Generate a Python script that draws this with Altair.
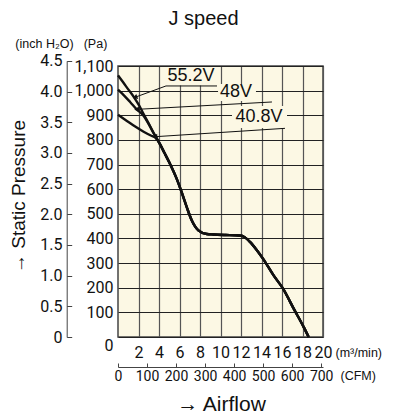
import altair as alt
import pandas as pd

# ---------------- data ----------------
series_names = ["55.2V", "48V", "40.8V"]

# separate heads of the three curves (flow m3/min, static pressure Pa)
flow_552 = [0, 0.5, 1.0, 1.5, 2.0, 2.5, 3.0, 3.5, 4.08]
pres_552 = [1062, 1034, 1005, 977, 944, 905, 866, 826, 784]
flow_48 = [0, 0.6, 1.2, 1.82, 2.45, 3.0, 3.5, 4.08]
pres_48 = [1004, 980, 953, 924, 900, 864, 826, 784]
flow_408 = [0, 0.8, 1.64, 2.5, 3.2, 3.61, 4.08]
pres_408 = [902, 879, 855, 833, 818, 810, 784]
# common part where the three curves coincide
flow_tail = [4.5, 5.06, 5.72, 6.2, 6.7, 7.19, 7.84, 8.66, 9.3, 10.5, 11.5, 12.0,
             12.24, 12.9, 13.55, 14.14, 15.18, 16.1, 17.14, 18.12, 18.6]
pres_tail = [750, 704, 643, 589, 528, 474, 433, 418, 416, 414, 413, 411,
             408, 385, 352, 318, 250, 196, 115, 40, 0]

flow_ticks = [2, 4, 6, 8, 10, 12, 14, 16, 18, 20]
pa_ticks = [0, 100, 200, 300, 400, 500, 600, 700, 800, 900, 1000, 1100]
inch_ticks = [0, 0.5, 1.0, 1.5, 2.0, 2.5, 3.0, 3.5, 4.0, 4.5]
cfm_ticks = [0, 100, 200, 300, 400, 500, 600, 700]

# annotation anchors (data units)
label_flow = [7.12, 11.51, 13.76]
label_pa = [1059, 994, 891]
box_flow1 = [4.39, 9.76, 11.12]
box_flow2 = [9.85, 13.46, 16.49]
box_pa1 = [1021, 958, 848]
box_pa2 = [1096, 1027, 938]
leader_series = ["55.2V", "55.2V", "55.2V", "48V", "48V", "40.8V", "40.8V"]
leader_flow = [1.66, 4.68, 9.66, 1.82, 15.02, 3.61, 16.29]
leader_pa = [973, 1019, 1019, 924, 954, 813, 847]
arrow_flow = [1.66, 1.82, 3.61]
arrow_pa = [973, 924, 813]

PA_PER_INCH = 249.089
CFM_PER_CMM = 35.3147
FLOW_MAX = 20
PA_MAX = 1100
INCH_MAX = 4.5

# ---------------- styles ----------------
W, H = 205, 271
NARROW = "Roboto, 'DejaVu Sans Condensed', sans-serif"
REG = "'Liberation Sans', Arial, sans-serif"
INK = "#111111"
CREAM = "#FCF8E4"
TICK_FS = 16
arrow_angle = {"55.2V": 340, "48V": 357, "40.8V": 356}

# ---------------- tables ----------------
rows = []
for name, fl, pr in zip(series_names, [flow_552, flow_48, flow_408], [pres_552, pres_48, pres_408]):
    for i, (q, p) in enumerate(zip(fl + flow_tail, pr + pres_tail)):
        rows.append({"series": name, "flow": q, "pa": p, "idx": i})
curves = pd.DataFrame(rows)

labels = pd.DataFrame({"series": series_names, "flow": label_flow, "pa": label_pa,
                       "f1": box_flow1, "f2": box_flow2, "p1": box_pa1, "p2": box_pa2})
leaders = pd.DataFrame({"series": leader_series, "flow": leader_flow, "pa": leader_pa,
                        "idx": list(range(len(leader_flow)))})
arrows = pd.DataFrame({"series": series_names, "flow": arrow_flow, "pa": arrow_pa})

# ---------------- main scales / axes ----------------
x_axis = alt.Axis(values=flow_ticks, grid=True, gridColor="#555555", gridWidth=1.2,
                  domain=False, ticks=False, labelFont=NARROW, labelFontSize=TICK_FS,
                  labelPadding=7, labelBaseline="top", labelColor=INK,
                  labelOverlap=False, labelFlush=False,
                  title="(m³/min)", titleX=217, titleY=15, titleAlign="left",
                  titleBaseline="middle", titleFont=REG, titleFontSize=12.5,
                  titleFontWeight="normal", titleColor=INK)
y_axis = alt.Axis(values=pa_ticks, format=",.0f", grid=True, gridColor="#222222", gridWidth=1,
                  domain=False, ticks=False, labelFont=NARROW, labelFontSize=TICK_FS,
                  labelPadding=5, labelColor=INK, labelOverlap=False, labelFlush=False,
                  labelBaseline={"condition": {"test": "datum.value === 0", "value": "top"},
                                 "value": "middle"},
                  title="(Pa)", titleAngle=0, titleX=-23, titleY=-23, titleAlign="center",
                  titleBaseline="middle", titleFont=REG, titleFontSize=12.5,
                  titleFontWeight="normal", titleColor=INK)
x_scale = alt.Scale(domain=[0, FLOW_MAX], nice=False, zero=True)
y_scale = alt.Scale(domain=[0, PA_MAX], nice=False, zero=True)


def X(field="flow"):
    return alt.X(f"{field}:Q", scale=x_scale, axis=x_axis)


def Y(field="pa"):
    return alt.Y(f"{field}:Q", scale=y_scale, axis=y_axis)


boxes = alt.Chart(labels).mark_rect(color=CREAM).encode(
    x=X("f1"), x2="f2", y=Y("p1"), y2="p2")

lines = alt.Chart(curves).mark_line(interpolate="monotone", strokeWidth=2.4, color=INK).encode(
    x=X(), y=Y(), detail="series:N", order="idx:Q")

lead = alt.Chart(leaders).mark_line(strokeWidth=1, color=INK).encode(
    x=X(), y=Y(), detail="series:N", order="idx:Q")

heads = [
    alt.Chart(arrows[arrows.series == s]).mark_point(
        shape="triangle-left", size=30, filled=True, color=INK, opacity=1,
        angle=arrow_angle[s]).encode(x=X(), y=Y())
    for s in series_names
]

texts = alt.Chart(labels).mark_text(font=REG, fontSize=18, color=INK,
                                    align="center", baseline="middle").encode(
    x=X(), y=Y(), text="series:N")

inner = alt.layer(boxes, lines, lead, *heads, texts)

# ---------------- secondary axes ----------------
inch_df = pd.DataFrame({"inch": inch_ticks})
inch_range_top = H - INCH_MAX * PA_PER_INCH * H / PA_MAX
inch_scale = alt.Scale(domain=[0, INCH_MAX], range=[H, inch_range_top], nice=False)

inch_line = alt.Chart(inch_df).mark_point(opacity=0).encode(
    y=alt.Y("inch:Q", scale=inch_scale,
            axis=alt.Axis(orient="left", offset=51.3, domain=True, domainColor="#444444",
                          domainWidth=1, ticks=False, labels=False, grid=False,
                          title="→ Static Pressure", titleAngle=270, titleX=-48.5, titleY=130,
                          titleAlign="center", titleBaseline="middle", titleFont=REG,
                          titleFontSize=19, titleFontWeight="normal", titleColor=INK)))

inch_tick = alt.Chart(inch_df).mark_point(opacity=0).encode(
    y=alt.Y("inch:Q", scale=inch_scale,
            axis=alt.Axis(orient="left", offset=46.3, values=inch_ticks, domain=False,
                          ticks=True, tickSize=5, tickColor="#444444", tickWidth=1,
                          labelExpr="datum.value == 0 ? '0' : format(datum.value, '.1f')",
                          labelFont=NARROW, labelFontSize=TICK_FS, labelPadding=4.7,
                          labelColor=INK, grid=False, labelOverlap=False, labelFlush=False,
                          title="(inch H₂O)", titleAngle=0, titleX=-27.7, titleY=-23,
                          titleAlign="center", titleBaseline="middle", titleFont=REG,
                          titleFontSize=12.5, titleFontWeight="normal", titleColor=INK)))

cfm_df = pd.DataFrame({"cfm": cfm_ticks})
cfm_scale = alt.Scale(domain=[0, FLOW_MAX * CFM_PER_CMM], nice=False)

cfm_line = alt.Chart(cfm_df).mark_point(opacity=0).encode(
    x=alt.X("cfm:Q", scale=cfm_scale,
            axis=alt.Axis(orient="bottom", offset=30, domain=True, domainColor="#444444",
                          domainWidth=1, ticks=False, labels=False, grid=False,
                          title="→ Airflow", titleX=103, titleY=37, titleAlign="center",
                          titleBaseline="middle", titleFont=REG, titleFontSize=21,
                          titleFontWeight="normal", titleColor=INK)))

cfm_tick = alt.Chart(cfm_df).mark_point(opacity=0).encode(
    x=alt.X("cfm:Q", scale=cfm_scale,
            axis=alt.Axis(orient="bottom", offset=26, values=cfm_ticks, domain=False,
                          ticks=True, tickSize=4, tickColor="#444444", tickWidth=1,
                          labelFont=NARROW, labelFontSize=14, labelPadding=2,
                          labelBaseline="top", labelColor=INK, grid=False,
                          labelOverlap=False, labelFlush=False,
                          title="(CFM)", titleX=222, titleY=12, titleAlign="left",
                          titleBaseline="middle", titleFont=REG, titleFontSize=12.5,
                          titleFontWeight="normal", titleColor=INK)))

chart = alt.layer(inner, inch_line, inch_tick, cfm_line, cfm_tick).resolve_scale(
    x="independent", y="independent"
).properties(
    width=W, height=H,
    title=alt.TitleParams("J speed", font=REG, fontSize=20, fontWeight="normal",
                          color=INK, anchor="middle", frame="group", dx=-17, offset=8),
    autosize=alt.AutoSizeParams(type="none"),
    padding={"left": 110, "top": 58, "right": 63, "bottom": 83},
).configure_view(
    fill=CREAM, stroke="#444444", strokeWidth=1.5
)

chart.save("out.html", embed_options={"renderer": "svg", "actions": False})
